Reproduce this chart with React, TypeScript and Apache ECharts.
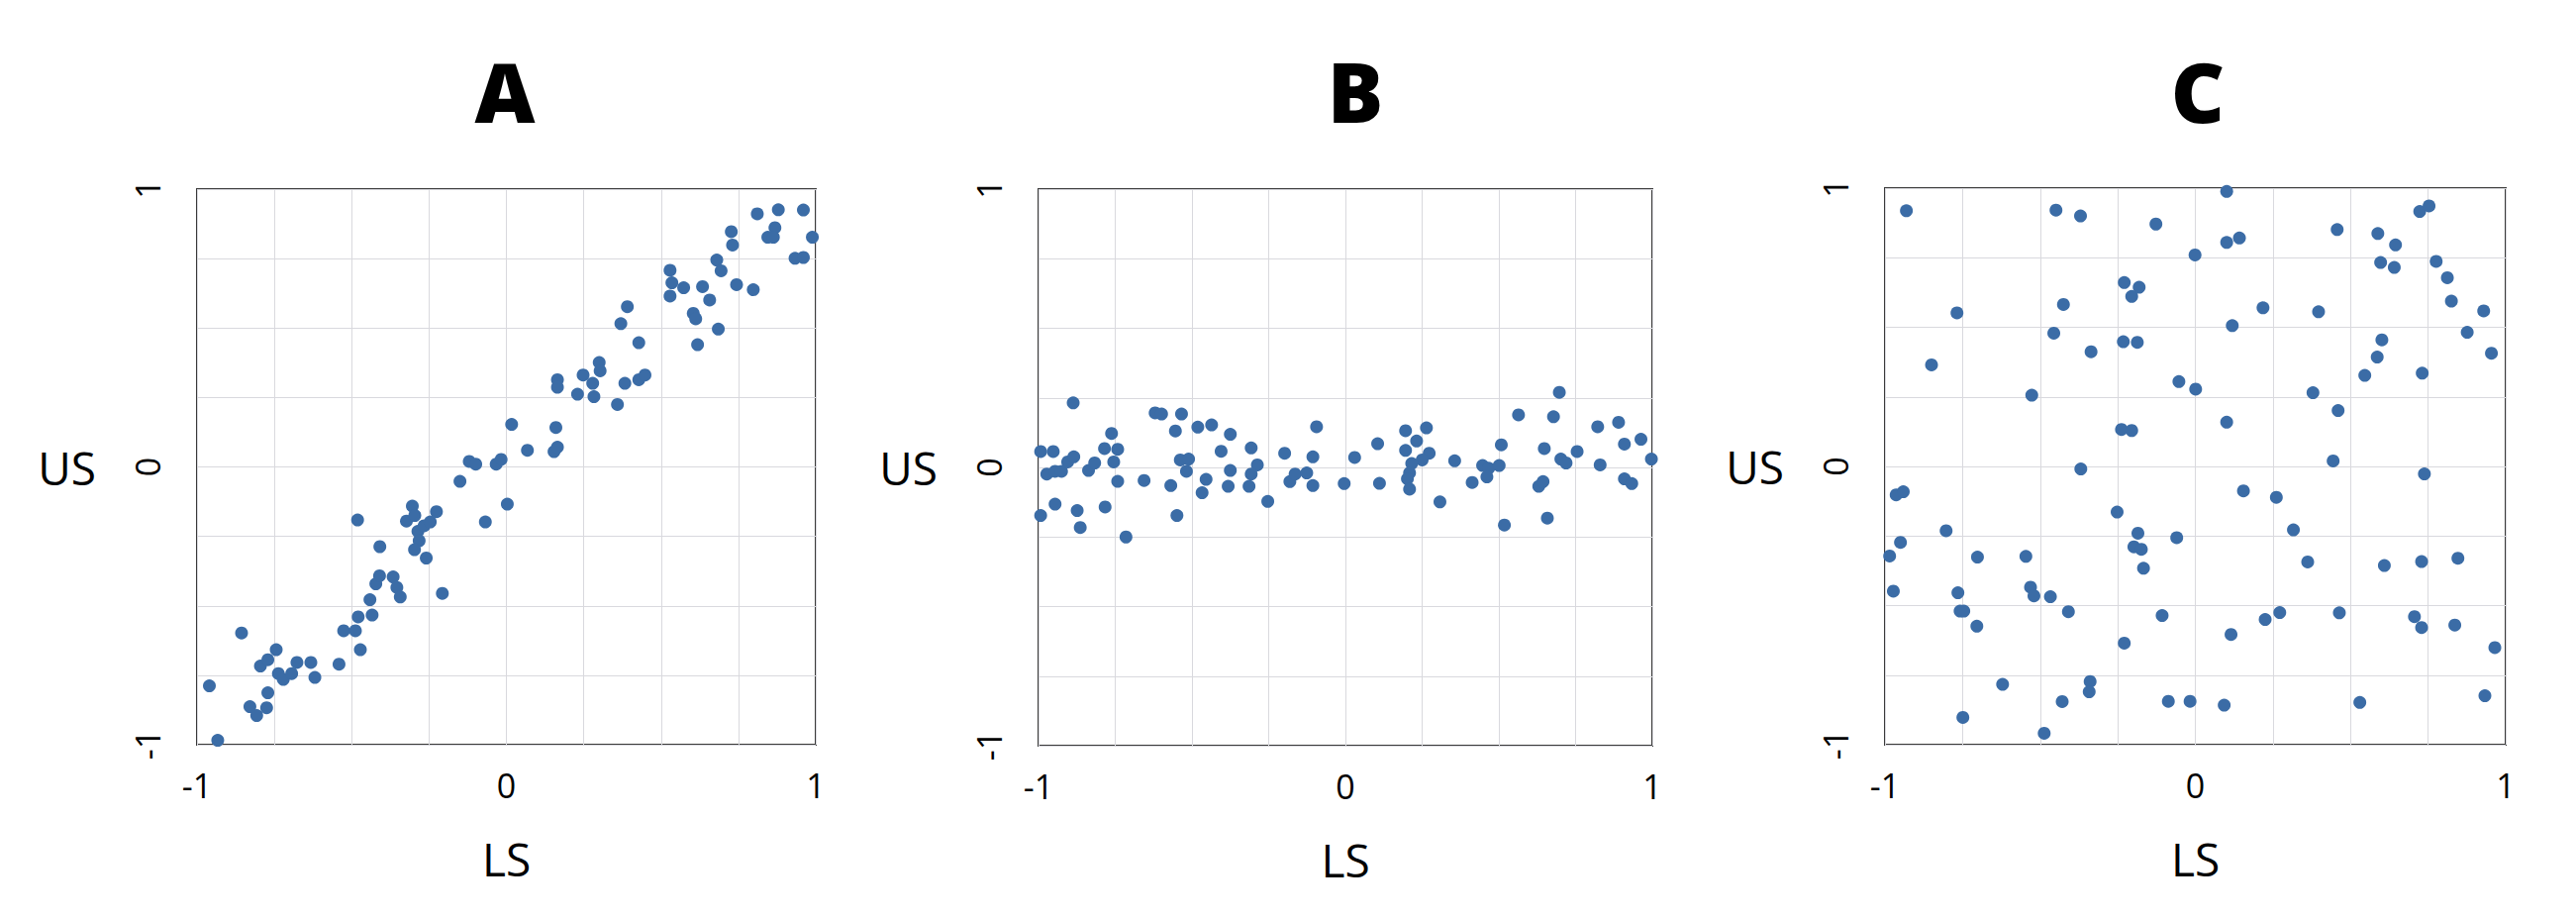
import React, { useEffect, useRef } from "react";
import * as echarts from "echarts";

const panelTitles = ["A", "B", "C"];
const xAxisName = "LS";
const yAxisName = "US";
const tickLabels = ["-1", "0", "1"];

const seriesA: [number, number][] = [
  [-0.96, -0.788], [-0.933, -0.984], [-0.856, -0.598], [-0.829, -0.863], [-0.807, -0.895],
  [-0.775, -0.867], [-0.771, -0.813], [-0.795, -0.717], [-0.771, -0.694], [-0.744, -0.658],
  [-0.737, -0.744], [-0.721, -0.765], [-0.694, -0.744], [-0.677, -0.704], [-0.632, -0.704],
  [-0.619, -0.758], [-0.541, -0.71], [-0.526, -0.59], [-0.488, -0.59], [-0.472, -0.658],
  [-0.479, -0.54], [-0.434, -0.533], [-0.481, -0.191], [-0.441, -0.478], [-0.422, -0.421],
  [-0.41, -0.392], [-0.409, -0.287], [-0.366, -0.396], [-0.354, -0.434], [-0.343, -0.468],
  [-0.207, -0.455], [-0.323, -0.195], [-0.304, -0.141], [-0.296, -0.175], [-0.286, -0.232],
  [-0.282, -0.266], [-0.297, -0.298], [-0.259, -0.328], [-0.266, -0.212], [-0.246, -0.198],
  [-0.226, -0.161], [-0.15, -0.052], [-0.12, 0.02], [-0.099, 0.01], [-0.068, -0.198],
  [-0.033, 0.01], [-0.017, 0.027], [0.003, -0.134], [0.017, 0.153], [0.068, 0.06],
  [0.154, 0.055], [0.165, 0.071], [0.16, 0.142], [0.165, 0.314], [0.165, 0.287],
  [0.23, 0.262], [0.248, 0.331], [0.279, 0.301], [0.283, 0.253], [0.3, 0.376],
  [0.303, 0.346], [0.359, 0.225], [0.383, 0.301], [0.428, 0.314], [0.448, 0.331],
  [0.428, 0.447], [0.37, 0.516], [0.391, 0.577], [0.529, 0.708], [0.535, 0.663],
  [0.529, 0.615], [0.573, 0.645], [0.604, 0.553], [0.612, 0.533], [0.618, 0.44],
  [0.634, 0.649], [0.657, 0.601], [0.685, 0.496], [0.68, 0.745], [0.694, 0.706],
  [0.727, 0.847], [0.731, 0.799], [0.744, 0.656], [0.798, 0.638], [0.811, 0.911],
  [0.879, 0.926], [0.868, 0.861], [0.845, 0.827], [0.863, 0.827], [0.933, 0.751],
  [0.96, 0.754], [0.96, 0.925], [0.989, 0.827],
];

const seriesB: [number, number][] = [
  [-0.993, 0.057], [-0.993, -0.173], [-0.952, 0.057], [-0.973, -0.024], [-0.946, -0.014],
  [-0.925, -0.014], [-0.905, 0.02], [-0.885, 0.038], [-0.946, -0.132], [-0.887, 0.232],
  [-0.874, -0.155], [-0.864, -0.216], [-0.837, -0.011], [-0.817, 0.016], [-0.785, 0.068],
  [-0.762, 0.122], [-0.742, 0.065], [-0.755, 0.02], [-0.783, -0.142], [-0.742, -0.05],
  [-0.715, -0.25], [-0.656, -0.047], [-0.62, 0.196], [-0.599, 0.192], [-0.534, 0.192],
  [-0.554, 0.131], [-0.538, 0.027], [-0.511, 0.03], [-0.518, -0.014], [-0.569, -0.065],
  [-0.549, -0.173], [-0.481, 0.145], [-0.436, 0.153], [-0.454, -0.043], [-0.467, -0.091],
  [-0.405, 0.058], [-0.375, 0.119], [-0.375, -0.011], [-0.382, -0.068], [-0.307, 0.07],
  [-0.287, 0.009], [-0.307, -0.024], [-0.314, -0.068], [-0.253, -0.122], [-0.198, 0.051],
  [-0.181, -0.051], [-0.164, -0.024], [-0.126, -0.02], [-0.106, 0.038], [-0.106, -0.065],
  [-0.094, 0.146], [-0.004, -0.058], [0.03, 0.036], [0.105, 0.085], [0.111, -0.057],
  [0.196, 0.132], [0.196, 0.061], [0.232, 0.095], [0.264, 0.142], [0.273, 0.051],
  [0.25, 0.027], [0.216, 0.014], [0.209, -0.02], [0.202, -0.041], [0.209, -0.078],
  [0.308, -0.124], [0.356, 0.024], [0.413, -0.054], [0.447, 0.007], [0.467, -0.003],
  [0.461, -0.034], [0.501, 0.007], [0.508, 0.081], [0.518, -0.207], [0.564, 0.189],
  [0.63, -0.068], [0.644, -0.051], [0.658, -0.182], [0.648, 0.068], [0.678, 0.182],
  [0.697, 0.27], [0.702, 0.03], [0.719, 0.016], [0.755, 0.057], [0.822, 0.146],
  [0.83, 0.009], [0.89, 0.162], [0.909, 0.084], [0.909, -0.041], [0.933, -0.058],
  [0.963, 0.101], [0.997, 0.03],
];

const seriesC: [number, number][] = [
  [-0.931, 0.919], [-0.449, 0.921], [-0.37, 0.9], [-0.127, 0.871], [0.101, 0.988],
  [0.101, 0.805], [0.142, 0.821], [-0.001, 0.76], [0.457, 0.851], [0.588, 0.837],
  [0.645, 0.796], [0.597, 0.733], [0.641, 0.715], [0.723, 0.916], [0.753, 0.936],
  [0.776, 0.737], [0.812, 0.678], [0.825, 0.594], [0.929, 0.559], [0.876, 0.482],
  [0.954, 0.407], [-0.768, 0.552], [-0.85, 0.365], [-0.527, 0.256], [-0.425, 0.582],
  [-0.456, 0.479], [-0.336, 0.412], [-0.229, 0.661], [-0.181, 0.644], [-0.205, 0.611],
  [-0.232, 0.448], [-0.187, 0.446], [-0.053, 0.305], [0.001, 0.278], [0.119, 0.506],
  [0.218, 0.57], [0.397, 0.556], [0.601, 0.455], [0.586, 0.393], [0.546, 0.327],
  [0.731, 0.335], [0.379, 0.265], [0.46, 0.201], [0.101, 0.159], [-0.238, 0.133],
  [-0.205, 0.129], [-0.369, -0.009], [0.444, 0.02], [0.738, -0.027], [-0.964, -0.102],
  [-0.941, -0.091], [0.155, -0.088], [0.261, -0.111], [-0.252, -0.164], [-0.803, -0.231],
  [-0.95, -0.273], [0.316, -0.228], [-0.185, -0.24], [-0.06, -0.256], [-0.198, -0.289],
  [-0.174, -0.298], [-0.167, -0.366], [-0.985, -0.322], [-0.702, -0.326], [-0.546, -0.323],
  [0.362, -0.343], [0.609, -0.356], [0.729, -0.342], [0.846, -0.33], [-0.973, -0.448],
  [-0.765, -0.454], [-0.531, -0.434], [-0.52, -0.465], [-0.467, -0.468], [-0.758, -0.52],
  [-0.746, -0.52], [-0.704, -0.574], [-0.409, -0.522], [-0.107, -0.536], [0.225, -0.55],
  [0.272, -0.525], [0.464, -0.526], [0.706, -0.54], [0.729, -0.579], [0.836, -0.57],
  [0.965, -0.651], [-0.229, -0.635], [0.115, -0.604], [-0.621, -0.783], [-0.429, -0.845],
  [-0.339, -0.773], [-0.342, -0.81], [-0.087, -0.844], [-0.017, -0.844], [0.093, -0.858],
  [0.53, -0.848], [0.933, -0.824], [-0.749, -0.902], [-0.487, -0.959],
];

const panelData = [seriesA, seriesB, seriesC];

const grids = [
  { left: 199, top: 191, width: 625, height: 561 },
  { left: 1049, top: 191, width: 620, height: 562 },
  { left: 1904, top: 190, width: 627, height: 562 },
];
const titleCenters = [505, 1364, 2215];

const DOT = "#3b6ca6";
const FONT = "'Open Sans', 'Noto Sans', sans-serif";

export default function App() {
  const ref = useRef<HTMLDivElement>(null);
  useEffect(() => {
    document.body.style.margin = "0";
    if (!ref.current) return;
    const chart = echarts.init(ref.current, null, { renderer: "svg" });
    const labelFmt = (v: number) => {
      const s = String(Math.round(v * 100) / 100);
      return tickLabels.includes(s) ? s : "";
    };
    const option: any = {
      animation: false,
      backgroundColor: "#ffffff",
      title: grids.map((g, i) => ({
        text: panelTitles[i],
        left: titleCenters[i],
        top: 44,
        textAlign: "center",
        textStyle: { fontFamily: FONT, fontWeight: 900, fontSize: 84, color: "#000" },
      })),
      grid: grids.map((g) => ({
        left: g.left,
        top: g.top,
        width: g.width,
        height: g.height,
        show: true,
        borderColor: "#3a3a3a",
        borderWidth: 2,
        backgroundColor: "#fff",
      })),
      xAxis: grids.map((_, i) => ({
        type: "value",
        gridIndex: i,
        min: -1,
        max: 1,
        interval: 0.25,
        name: xAxisName,
        nameLocation: "middle",
        nameGap: 92,
        nameTextStyle: { fontFamily: FONT, fontSize: 46, color: "#000" },
        axisLine: { show: false },
        axisTick: { show: false },
        axisLabel: {
          formatter: labelFmt,
          fontFamily: FONT,
          fontSize: 34,
          color: "#000",
          margin: 24,
        },
        splitLine: { show: true, lineStyle: { color: "#d9d9de", width: 1 } },
      })),
      yAxis: grids.map((_, i) => ({
        type: "value",
        gridIndex: i,
        min: -1,
        max: 1,
        interval: 0.25,
        name: yAxisName,
        nameLocation: "middle",
        nameRotate: 0,
        nameGap: 102,
        nameTextStyle: { fontFamily: FONT, fontSize: 46, color: "#000" },
        axisLine: { show: false },
        axisTick: { show: false },
        axisLabel: {
          formatter: labelFmt,
          fontFamily: FONT,
          fontSize: 34,
          color: "#000",
          rotate: 90,
          margin: 33,
        },
        splitLine: { show: true, lineStyle: { color: "#d9d9de", width: 1 } },
      })),
      series: panelData.map((d, i) => ({
        type: "scatter",
        xAxisIndex: i,
        yAxisIndex: i,
        data: d,
        symbolSize: 13,
        itemStyle: { color: DOT, opacity: 1 },
        clip: false,
      })),
    };
    chart.setOption(option);
    return () => chart.dispose();
  }, []);
  return <div ref={ref} style={{ width: 2602, height: 928 }} />;
}
